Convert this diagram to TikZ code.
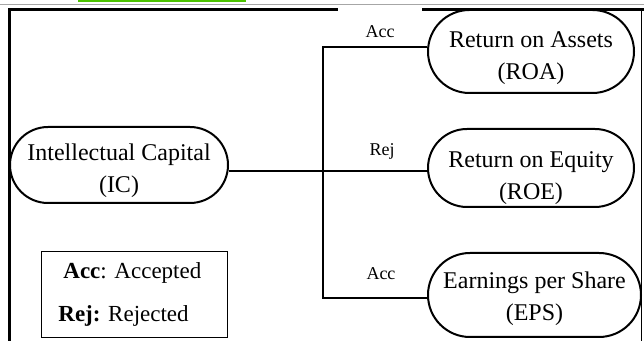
\documentclass[tikz,border=0pt]{standalone}
\usepackage{fontspec}
\setmainfont{Liberation Serif}
\usetikzlibrary{shapes.misc}
\begin{document}
\begin{tikzpicture}[x=0.5pt,y=-0.5pt,
  box/.style={draw, line width=1pt, rounded rectangle, inner sep=0pt, fill=white},
  boxtext/.style={align=center, font=\fontsize{12}{16}\selectfont, inner sep=0pt},
  conn/.style={line width=1pt},
  lbl/.style={font=\fontsize{9}{10}\selectfont, inner sep=1pt},
  frame/.style={line width=1.5pt},
  legtext/.style={anchor=west, font=\fontsize{11.5}{12}\selectfont, inner sep=0pt},
]
\useasboundingbox (0,0) rectangle (644,341);
% header remnants
\draw[gray!70, line width=0.4pt] (0,4.5) -- (644,4.5);
\draw[green!60!black!60!lime, line width=0.8pt] (78,1) -- (246,1);
% frame
\draw[frame] (9.5,341) -- (9.5,10) -- (644,10);
\draw[line width=0.6pt] (641.5,10) -- (641.5,341);
% connector junctions
\coordinate (ja) at (323,47);
\coordinate (jm) at (323,171);
\coordinate (jb) at (323,298);
% boxes
\node[box, minimum width=109pt, minimum height=38pt] (ic) at (119,165) {};
\node[box, minimum width=103pt, minimum height=41.5pt] (roa) at (531,51.5) {};
\node[box, minimum width=103pt, minimum height=39pt] (roe) at (531,168) {};
\node[box, minimum width=106.5pt, minimum height=42pt] (eps) at (534.5,295) {};
% box texts
\node[boxtext] (ic-t) at (119,170.5) {Intellectual Capital\\(IC)};
\node[boxtext] (roa-t) at (531,58.5) {Return on Assets\\(ROA)};
\node[boxtext] (roe-t) at (531,178) {Return on Equity\\(ROE)};
\node[boxtext] (eps-t) at (534.5,299) {Earnings per Share\\(EPS)};
% connectors
\draw[conn] (roa.west |- ja) -- (ja) -- (jb) -- (eps.west |- jb);
\draw[conn] (ic.east |- jm) -- (roe.west |- jm);
% labels
\node[lbl, fill=white, anchor=north, minimum width=42pt, text height=14pt, text depth=0pt, inner ysep=1pt] (acc1) at (380,7) {Acc};
\node[lbl] (rej) at (382,151) {Rej};
\node[lbl] (acc2) at (381,274) {Acc};
% legend
\node[draw, line width=0.5pt, minimum width=93pt, minimum height=43pt, inner sep=0pt] (legend) at (134,295) {};
\node[legtext] (lg1) at (63,273) {\textbf{Acc}: Accepted};
\node[legtext] (lg2) at (58,316) {\textbf{Rej:} Rejected};
\end{tikzpicture}
\end{document}
